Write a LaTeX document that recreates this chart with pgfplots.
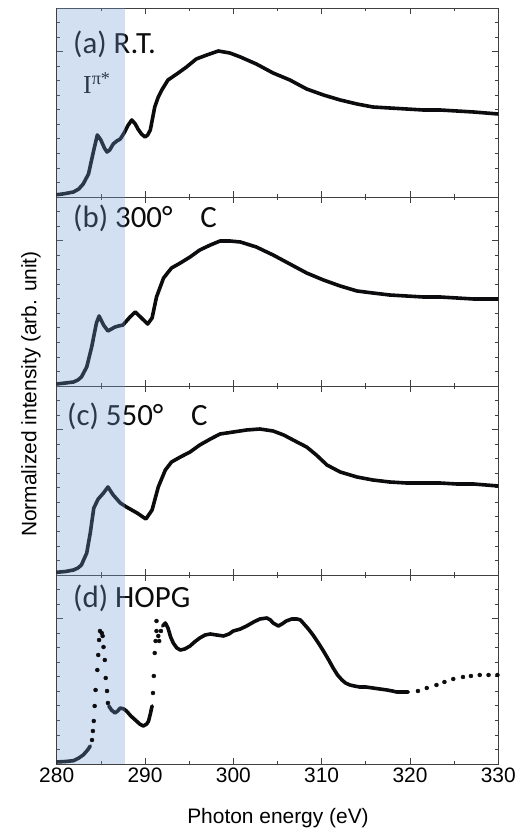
\documentclass[border=0pt]{standalone}
\usepackage{pgfplots}
\pgfplotsset{compat=1.18}
\usepackage{fontspec}
\setmainfont{Liberation Sans}
\newfontfamily\calib{Carlito}
\newfontfamily\tnr{Liberation Serif}
\definecolor{shade}{RGB}{113,155,210}
\definecolor{curve}{RGB}{12,12,14}
\definecolor{lbl}{RGB}{12,12,14}
\definecolor{axc}{RGB}{64,64,64}
\pgfplotsset{
  panel/.style={
    scale only axis, width=441.6bp, height=189bp,
    anchor=south west,
    xmin=280, xmax=330, ymin=0, ymax=189,
    xtick={280,290,...,330}, minor xtick={285,295,...,325},
    ytick={145.38},
    minor ytick={14.54,29.08,43.62,58.15,72.69,87.23,101.77,116.31,130.85,159.92,174.46},
    yticklabels={},
    tick align=inside,
    major tick length=6bp, minor tick length=3bp,
    axis line style={axc, line width=0.8bp},
    every tick/.style={axc, line width=0.8bp},
    every minor tick/.style={axc, line width=0.7bp},
    tick label style={font=\fontsize{21}{24}\selectfont},
    /pgf/number format/assume math mode=true,
  },
  cv/.style={curve, line width=3.6bp, line join=round, line cap=round, no marks},
  dots/.style={curve, only marks, mark=*, mark size=2.0bp},
  shd/.style={fill=shade, fill opacity=0.31, draw=none},
}
\begin{document}
\begin{tikzpicture}
\path[use as bounding box] (0,0) rectangle (528bp,836bp);

% ---------- texts (drawn first, the translucent band lies over them)
\begin{scope}[every node/.style={inner sep=0pt, text=lbl, anchor=base west}]
\node at (73bp,782bp) {\fontsize{31}{33}\calib (a) R.T.};
\node at (73bp,608bp) {\fontsize{31}{33}\calib (b) 300°\hspace{0.9em}C};
\node at (67bp,410bp) {\fontsize{31}{33}\calib (c) 550°\hspace{0.9em}C};
\node at (73bp,228bp) {\fontsize{31}{33}\calib (d) HOPG};
\node at (83bp,742bp) {\fontsize{26}{28}\tnr I\textsuperscript{π*}};
\end{scope}
\node[font=\fontsize{21}{24}\selectfont] at (278bp,18bp) {Photon energy (eV)};
\node[rotate=90, font=\fontsize{21}{24}\selectfont] at (31bp,442bp) {Normalized intensity (arb. unit)};

% ---------- panel (a)
\begin{axis}[panel, at={(56.7bp,639bp)}, xticklabels={}]
\addplot[cv] coordinates {
(280,2.3) (280.5,2.8) (281,3.5) (281.9,5) (282.5,8) (283,13) (283.6,23) (284.2,47) (284.6,62)
(285.0,57) (285.4,49) (285.7,45) (286.0,47) (286.4,53) (286.8,56) (287.2,58) (287.7,65)
(288.1,72) (288.5,77) (288.9,73) (289.2,68) (289.6,63) (290.0,60) (290.3,62) (290.6,67)
(291.1,90) (291.5,100) (291.9,107) (292.6,117) (293.6,123) (294.7,130) (295.8,138) (297.0,142)
(298.3,146) (299.6,144) (300.8,140) (302.6,133) (304.5,124) (306.4,117) (308.3,108) (310.2,102)
(312.1,97) (314.0,93) (315.8,90) (317.7,89) (319.6,88) (321.5,87) (323.4,87) (325.3,86)
(327.2,85) (330,83)};
\addplot[shd] coordinates {(280,189) (287.7,189)} \closedcycle;
\end{axis}

% ---------- panel (b)
\begin{axis}[panel, at={(56.7bp,450bp)}, xticklabels={}]
\addplot[cv] coordinates {
(280,2) (281,3) (281.9,4) (282.4,6) (282.8,9) (283.4,19) (283.96,39) (284.5,63) (284.8,70)
(285.3,61) (285.8,55) (286.2,57) (286.6,59) (287.0,60) (287.5,61) (288.3,69) (288.9,74)
(289.6,68) (290.3,62) (290.8,68) (291.3,89) (292.1,108) (293.0,118) (294.0,123) (295.1,129)
(296.2,136) (297.4,141) (298.5,145) (299.6,145) (300.8,144) (302.6,139) (304.5,131) (306.4,122)
(308.3,113) (310.2,106) (312.1,100) (314.0,95) (315.8,93) (317.7,91) (319.6,90) (321.5,89)
(323.4,89) (325.3,88) (327.2,87) (330,87)};
\addplot[shd] coordinates {(280,189) (287.7,189)} \closedcycle;
\end{axis}

% ---------- panel (c)
\begin{axis}[panel, at={(56.7bp,261bp)}, xticklabels={}]
\addplot[cv] coordinates {
(280,2.7) (281,3.5) (281.9,5) (282.4,7) (282.8,10) (283.4,22) (283.8,42) (284.2,67) (284.7,76)
(285.3,82) (285.8,88) (286.4,80) (287.2,72) (287.9,68) (289.1,62) (290.1,56) (290.8,65)
(291.5,88) (292.3,105) (293.0,113) (294.0,118) (295.1,123) (296.2,130) (297.4,136) (298.5,141)
(300.0,143) (301.5,145) (303.0,146) (304.5,144) (305.7,140) (307.2,133) (308.3,128) (309.4,120)
(310.6,110) (312.1,103) (314.0,98) (315.8,95) (317.7,93) (319.6,92) (321.5,92) (323.4,92)
(325.3,91) (327.2,91) (330,89)};
\addplot[shd] coordinates {(280,189) (287.7,189)} \closedcycle;
\end{axis}

% ---------- panel (d)
\begin{axis}[panel, at={(56.7bp,72bp)}]
\addplot[cv] coordinates {(280,2) (281,2.5) (281.9,3.3) (282.5,6) (283,9) (283.5,14) (283.8,18)};
\addplot[dots] coordinates {
(284.0,24) (284.1,33) (284.2,43) (284.3,58) (284.4,74) (284.6,94) (284.7,109) (284.8,124)
(284.9,133) (285.1,131) (285.2,128) (285.3,117) (285.45,104) (285.55,86) (285.7,73) (285.8,61)};
\addplot[cv] coordinates {
(285.9,58) (286.2,54) (286.6,51) (286.9,53) (287.2,56) (287.6,55) (287.9,53) (288.4,48) (288.9,44)
(289.4,40) (289.8,38) (290.2,40) (290.4,43) (290.6,50) (290.8,58)};
\addplot[dots] coordinates {
(290.9,71) (291.0,88) (291.1,111) (291.2,123) (291.3,133) (291.3,143) (291.5,128) (291.6,123) (291.8,133)};
\addplot[cv] coordinates {
(292.0,138) (292.3,141) (292.6,136) (292.9,127) (293.2,121) (293.6,116) (294.0,114) (294.5,115)
(295.1,118) (295.6,122) (296.2,126) (296.8,129) (297.4,130) (298.1,129) (298.9,128) (299.5,130)
(300.0,133) (300.8,135) (301.5,138) (302.3,142) (303.0,145) (303.8,146) (304.2,144) (304.5,141)
(305.1,138) (305.5,140) (306.0,143) (306.6,145) (307.2,145) (307.6,144) (307.9,141) (308.5,135)
(309.1,128) (309.7,120) (310.2,113) (310.8,104) (311.3,96) (311.8,89) (312.3,84) (312.7,81)
(313.2,79) (313.7,78) (314.3,77) (315.0,77) (315.8,76) (316.6,75) (317.4,74) (318.0,73)
(318.5,72) (319.2,72) (319.8,72)};
\addplot[dots] coordinates {
(320.9,73) (321.9,76) (323.0,79) (323.9,82) (324.9,85) (326.0,87) (326.9,88) (327.9,89) (328.9,89) (329.9,89)};
\addplot[shd] coordinates {(280,189) (287.7,189)} \closedcycle;
\end{axis}
\end{tikzpicture}
\end{document}
